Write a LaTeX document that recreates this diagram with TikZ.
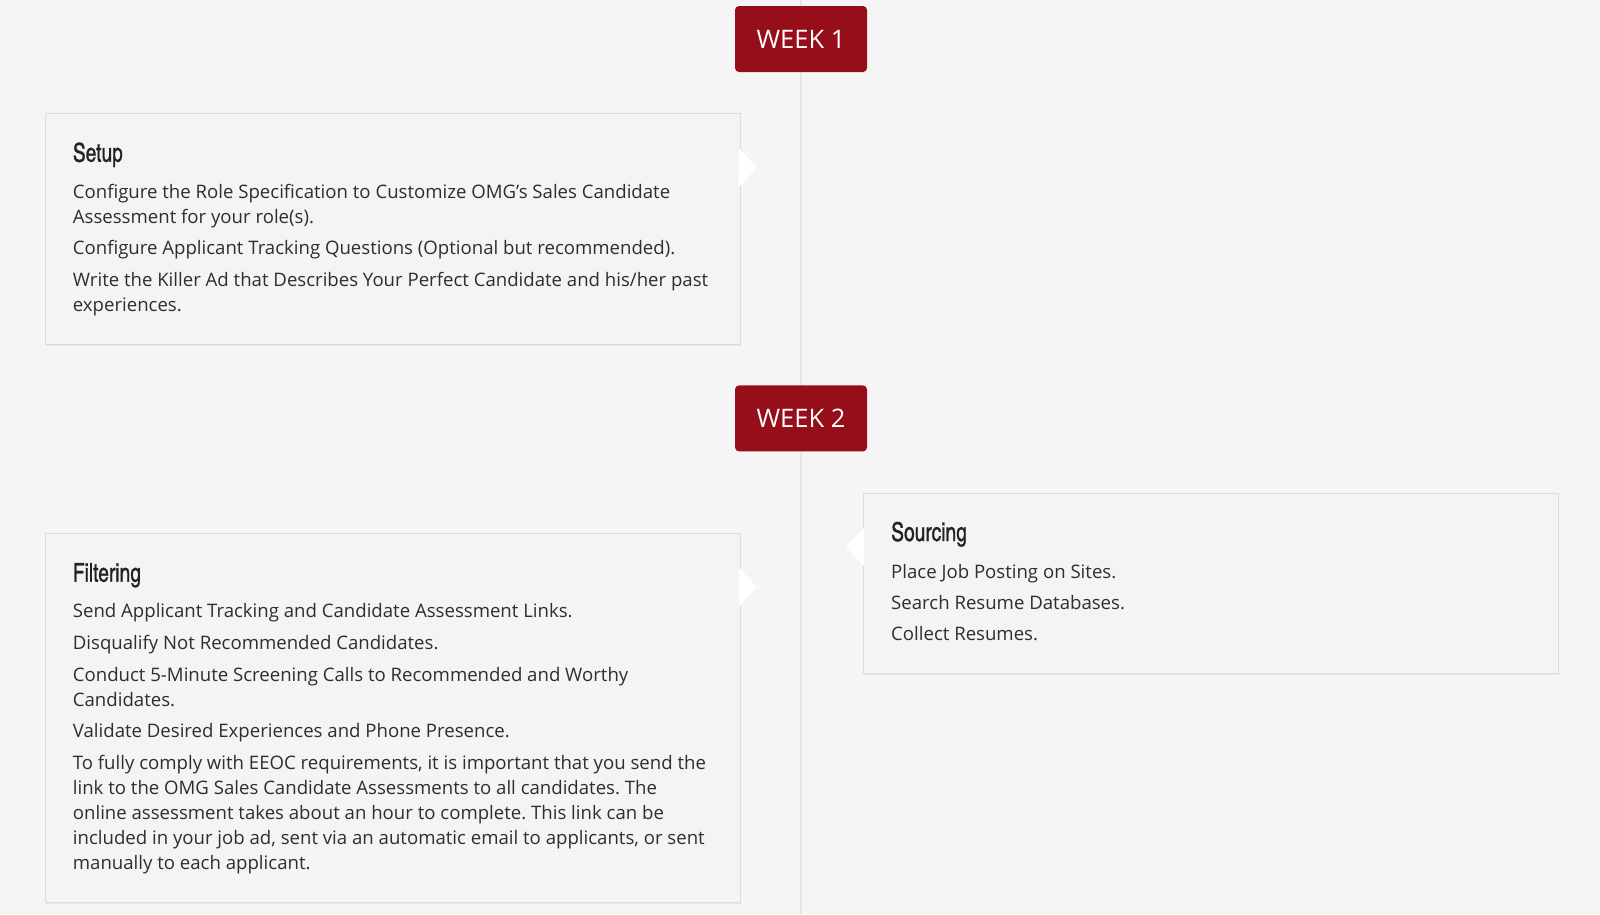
\documentclass[tikz,border=0pt]{standalone}
\usepackage{fontspec}
\setmainfont{Open Sans}
\newfontfamily\titlefont[FakeBold=1.0,FakeStretch=0.9]{texgyreheroscn-regular.otf}
\usetikzlibrary{shadows}
\definecolor{bg}{HTML}{F5F5F5}
\definecolor{cardbg}{HTML}{F4F4F4}
\definecolor{cardline}{HTML}{DCDCDC}
\definecolor{weekred}{HTML}{960E1A}
\definecolor{rulegray}{HTML}{E6E6E6}
\definecolor{bodytext}{HTML}{2E2E2E}
\definecolor{titletext}{HTML}{222222}
\begin{document}
\frenchspacing
\begin{tikzpicture}[x=1pt,y=-1pt,
  card/.style={draw=cardline, line width=1.2pt, fill=cardbg, rectangle, inner sep=0pt, anchor=north west,
    drop shadow={opacity=0.12, shadow xshift=0.8pt, shadow yshift=-1.5pt}},
  badge/.style={fill=weekred, rounded corners=4pt, minimum width=132pt, minimum height=66pt,
    text=white, font=\fontsize{25.5}{30}\selectfont, inner sep=0pt},
  ttl/.style={anchor=base west, inner sep=0pt, text=titletext, font=\titlefont\fontsize{26}{30}\selectfont},
  bodyline/.style={anchor=base west, inner sep=0pt, text=bodytext, font=\fontsize{18.6}{25}\selectfont},
  pointer/.style={fill=white, draw=none},
  timeline/.style={draw=rulegray, line width=2pt}]
\useasboundingbox (0,0) rectangle (1600,914);
\fill[bg] (0,0) rectangle (1600,914);
% timeline
\coordinate (ltop) at (801,0);
\coordinate (lbot) at (801,914);
\draw[timeline] (ltop) -- (lbot);
% badges
\node[badge] (w1) at (801,39) {WEEK 1};
\node[badge] (w2) at (801,418.4) {WEEK 2};
% Setup card
\node[card, minimum width=695pt, minimum height=231pt] (setup) at (45,113) {};
\fill[pointer] (739,148) -- (757,167.5) -- (739,187) -- cycle;
\node[ttl] (setupT) at (72.7,161.7) {Setup};
\node[bodyline] (s1) at (72.7,198) {Configure the Role Specification to Customize OMG’s Sales Candidate};
\node[bodyline] (s2) at (72.7,223) {Assessment for your role(s).};
\node[bodyline] (s3) at (72.7,254.5) {Configure Applicant Tracking Questions (Optional but recommended).};
\node[bodyline] (s4) at (72.7,286) {Write the Killer Ad that Describes Your Perfect Candidate and his/her past};
\node[bodyline] (s5) at (72.7,311.5) {experiences.};
% Sourcing card
\node[card, minimum width=695pt, minimum height=180pt] (sourcing) at (863,493) {};
\fill[pointer] (864,528) -- (846,547) -- (864,566) -- cycle;
\node[ttl] (sourcingT) at (891,541) {Sourcing};
\node[bodyline] (o1) at (891,578.3) {Place Job Posting on Sites.};
\node[bodyline] (o2) at (891,609) {Search Resume Databases.};
\node[bodyline] (o3) at (891,640) {Collect Resumes.};
% Filtering card
\node[card, minimum width=695pt, minimum height=369pt] (filtering) at (45,533) {};
\fill[pointer] (739,567.5) -- (757,587) -- (739,606.5) -- cycle;
\node[ttl] (filteringT) at (72.7,581.7) {Filtering};
\node[bodyline] (f1) at (72.7,617.5) {Send Applicant Tracking and Candidate Assessment Links.};
\node[bodyline] (f2) at (72.7,649) {Disqualify Not Recommended Candidates.};
\node[bodyline] (f3) at (72.7,681) {Conduct 5-Minute Screening Calls to Recommended and Worthy};
\node[bodyline] (f4) at (72.7,706) {Candidates.};
\node[bodyline] (f5) at (72.7,737.5) {Validate Desired Experiences and Phone Presence.};
\node[bodyline] (f6) at (72.7,769.3) {To fully comply with EEOC requirements, it is important that you send the};
\node[bodyline] (f7) at (72.7,794.3) {link to the OMG Sales Candidate Assessments to all candidates. The};
\node[bodyline] (f8) at (72.7,819.3) {online assessment takes about an hour to complete. This link can be};
\node[bodyline] (f9) at (72.7,844.3) {included in your job ad, sent via an automatic email to applicants, or sent};
\node[bodyline] (f10) at (72.7,869.3) {manually to each applicant.};
\end{tikzpicture}
\end{document}
